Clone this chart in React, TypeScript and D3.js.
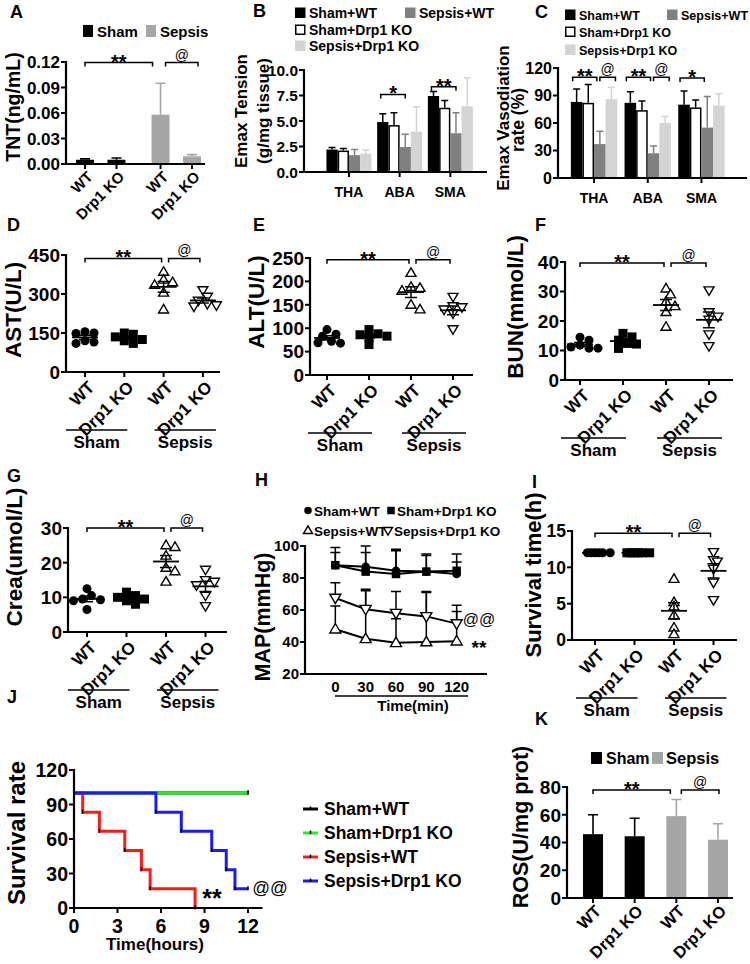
import React from 'react';
import * as d3 from 'd3';

const FONT = "'Liberation Sans', Arial, Helvetica, sans-serif";

// ---------- shared labels ----------
const groupLabels = ['WT', 'Drp1 KO', 'WT', 'Drp1 KO'];
const conditionNames = ['Sham', 'Sepsis'];
const seriesNames = ['Sham+WT', 'Sham+Drp1 KO', 'Sepsis+WT', 'Sepsis+Drp1 KO'];

// ---------- A: TNT ----------
const tntMean = [0.005, 0.005, 0.058, 0.009];
const tntSD = [0.001, 0.002, 0.037, 0.002];
const tntTicks = [0, 0.03, 0.06, 0.09, 0.12];

// ---------- B: Emax tension ----------
const vessels = ['THA', 'ABA', 'SMA'];
const tensionMean = [
  [2.2, 4.9, 7.45],   // Sham+WT
  [2.1, 4.6, 6.3],    // Sham+Drp1 KO
  [1.65, 2.45, 3.8],  // Sepsis+WT
  [1.8, 3.95, 6.45],  // Sepsis+Drp1 KO
];
const tensionSD = [
  [0.2, 0.8, 0.45],
  [0.2, 1.2, 0.7],
  [0.55, 1.25, 2.0],
  [0.35, 2.45, 2.8],
];
const tensionTicks = [0, 2.5, 5, 7.5, 10];

// ---------- C: Emax vasodilation ----------
const vasoMean = [
  [83, 82, 80],
  [82, 74, 77],
  [37, 27, 55],
  [86, 60, 79],
];
const vasoSD = [
  [14, 12, 15],
  [20, 10, 8],
  [14, 8, 34],
  [13, 7, 13],
];
const vasoTicks = [0, 30, 60, 90, 120];

// ---------- D: AST ----------
const astShamWT = [155, 150, 148, 120, 115, 110];
const astShamKO = [150, 145, 135, 125, 120, 110];
const astSepsisWT = [385, 355, 345, 335, 305, 240];
const astSepsisKO = [315, 290, 275, 262, 257, 252];
const astTicks = [0, 150, 300, 450];

// ---------- E: ALT ----------
const altShamWT = [97, 87, 83, 72, 69, 68];
const altShamKO = [97, 88, 86, 83, 80, 65];
const altSepsisWT = [218, 188, 186, 180, 150, 140];
const altSepsisKO = [167, 147, 145, 140, 132, 98];
const altTicks = [0, 50, 100, 150, 200, 250];

// ---------- F: BUN ----------
const bunShamWT = [14.5, 13.5, 11.8, 11.2, 10.8, 10.8];
const bunShamKO = [15.8, 14.6, 13.5, 12.4, 12.2, 10.7];
const bunSepsisWT = [31, 29, 26.5, 25, 23, 18];
const bunSepsisKO = [30.4, 23, 21.5, 20.5, 15.5, 11.5];
const bunTicks = [0, 10, 20, 30, 40];

// ---------- G: Crea ----------
const creaShamWT = [12.5, 10.5, 9.5, 9.3, 9.0, 6.5];
const creaShamKO = [11.5, 10.5, 10, 9.5, 9, 8];
const creaSepsisWT = [25, 24.5, 22, 18.5, 17.5, 14.5];
const creaSepsisKO = [18, 15, 14.5, 13.5, 10.5, 7.5];
const creaTicks = [0, 10, 20, 30];

// ---------- H: MAP ----------
const mapTimes = [0, 30, 60, 90, 120];
const mapShamWT = [88, 87, 84.5, 84, 82.5];
const mapShamWTSD = [11, 13, 13.5, 11, 7.5];
const mapShamKO = [88, 84, 82.5, 84, 84.5];
const mapShamKOSD = [8, 12, 14.5, 10, 10.5];
const mapSepsisWT = [48, 42, 39.5, 40, 40.5];
const mapSepsisWTSD = [14.5, 30, 15, 31, 18.5];
const mapSepsisKO = [67.5, 60.5, 58, 56, 51.5];
const mapSepsisKOSD = [9.5, 12.5, 13.5, 15.5, 11.5];
const mapTicks = [20, 40, 60, 80, 100];

// ---------- I: survival time ----------
const stShamWT = [12, 12, 12, 12, 12, 12];
const stShamKO = [12, 12, 12, 12, 12, 12];
const stSepsisWT = [8.4, 5.2, 4.6, 3.4, 1.7, 0.8];
const stSepsisKO = [12.1, 11.0, 10.8, 9.8, 7.9, 5.5];
const stTicks = [0, 5, 10, 15];

// ---------- J: Kaplan-Meier ----------
const kmShamWTTimes = [0, 12];
const kmShamWTSurv = [100, 100];
const kmShamKOTimes = [0, 12];
const kmShamKOSurv = [100, 100];
const kmSepsisWTTimes = [0, 0.6, 1.75, 3.5, 4.65, 5.25, 8.35];
const kmSepsisWTSurv = [100, 83.3, 66.7, 50, 33.3, 16.7, 0];
const kmSepsisKOTimes = [0, 5.65, 7.4, 9.5, 10.5, 11.1, 12];
const kmSepsisKOSurv = [100, 83.3, 66.7, 50, 33.3, 16.7, 16.7];
const kmColors = ['#000000', '#22ee22', '#ff1a1a', '#1a1aff'];
const kmYTicks = [0, 30, 60, 90, 120];
const kmXTicks = [0, 3, 6, 9, 12];

// ---------- K: ROS ----------
const rosMean = [46, 44.5, 59, 42];
const rosSD = [14, 13, 12, 11.5];
const rosTicks = [0, 20, 40, 60, 80];

// ================= helpers =================
function YAxis({ scale, x, ticks, fmt, fs }: any) {
  const [d0, d1] = scale.domain();
  return (
    <g>
      <line x1={x} x2={x} y1={scale(d0) + 1} y2={scale(d1) - 1} stroke="#000" strokeWidth={2.2} />
      {ticks.map((t: number) => (
        <g key={t}>
          <line x1={x - 5} x2={x} y1={scale(t)} y2={scale(t)} stroke="#000" strokeWidth={2} />
          <text x={x - 6} y={scale(t)} dy="0.36em" textAnchor="end" fontSize={fs} fontWeight="bold">
            {fmt ? fmt(t) : t}
          </text>
        </g>
      ))}
    </g>
  );
}

function XAxisLine({ x0, x1, y, ticks }: any) {
  return (
    <g>
      <line x1={x0 - 1} x2={x1} y1={y} y2={y} stroke="#000" strokeWidth={2.2} />
      {(ticks || []).map((t: number, i: number) => (
        <line key={i} x1={t} x2={t} y1={y} y2={y + 5} stroke="#000" strokeWidth={2} />
      ))}
    </g>
  );
}

function YLabel({ x, y, text, fs }: any) {
  return (
    <text transform={`translate(${x},${y}) rotate(-90)`} textAnchor="middle" dy="0.36em" fontSize={fs} fontWeight="bold">
      {text}
    </text>
  );
}

function RotLabel({ x, y, text, fs }: any) {
  return (
    <text transform={`translate(${x},${y}) rotate(-45)`} textAnchor="end" dy="0.36em" fontSize={fs} fontWeight="bold">
      {text}
    </text>
  );
}

function Letter({ x, y, t }: any) {
  return (
    <text x={x} y={y} fontSize={18} fontWeight="bold">
      {t}
    </text>
  );
}

function Bracket({ xa, xb, y, label, fs }: any) {
  const isAt = label.startsWith('@');
  return (
    <g>
      <path d={`M${xa},${y + 4}V${y}H${xb}V${y + 4}`} fill="none" stroke="#000" strokeWidth={1.5} />
      <text
        x={(xa + xb) / 2}
        y={isAt ? y - 3 : y + 6}
        textAnchor="middle"
        fontSize={isAt ? fs * 0.7 : fs}
        fontWeight={isAt ? 'normal' : 'bold'}
      >
        {label}
      </text>
    </g>
  );
}

function Marker({ type, x, y, s }: any) {
  if (type === 'circle') return <circle cx={x} cy={y} r={s / 2} fill="#000" />;
  if (type === 'square') return <rect x={x - s / 2} y={y - s / 2} width={s} height={s} fill="#000" />;
  const h = s * 0.95;
  if (type === 'up')
    return (
      <path
        d={`M${x},${y - h * 0.6}L${x + s / 2 + 0.5},${y + h * 0.4}L${x - s / 2 - 0.5},${y + h * 0.4}Z`}
        fill="#fff"
        stroke="#000"
        strokeWidth={1.4}
      />
    );
  return (
    <path
      d={`M${x},${y + h * 0.6}L${x + s / 2 + 0.5},${y - h * 0.4}L${x - s / 2 - 0.5},${y - h * 0.4}Z`}
      fill="#fff"
      stroke="#000"
      strokeWidth={1.4}
    />
  );
}

function swarm(vals: number[], y: any, minD: number, step: number) {
  const order = vals.map((_, i) => i).sort((a, b) => vals[b] - vals[a]);
  const placed: { x: number; y: number }[] = [];
  const offs = vals.map(() => 0);
  for (const i of order) {
    const py = y(vals[i]);
    for (let k = 0; k < 60; k++) {
      const n = Math.ceil(k / 2);
      const cand = k === 0 ? 0 : k % 2 === 1 ? n * step : -n * step;
      if (placed.every((p) => Math.hypot(p.x - cand, p.y - py) >= minD)) {
        offs[i] = cand;
        placed.push({ x: cand, y: py });
        break;
      }
    }
  }
  return offs;
}

const scatterMarkers = ['circle', 'square', 'up', 'down'];

// ================= panels =================
function SimpleBars({ y, xs, means, sds, colors, barW, cap }: any) {
  return (
    <g>
      {xs.map((cx: number, i: number) => (
        <g key={i}>
          <path
            d={`M${cx},${y(means[i])}V${y(means[i] + sds[i])}M${cx - cap},${y(means[i] + sds[i])}H${cx + cap}`}
            stroke={colors[i]}
            strokeWidth={1.6}
            fill="none"
          />
          <rect x={cx - barW / 2} y={y(means[i])} width={barW} height={y(0) - y(means[i])} fill={colors[i]} />
        </g>
      ))}
    </g>
  );
}

function PanelA() {
  const y = d3.scaleLinear().domain([0, 0.12]).range([164, 62]);
  const x = d3.scaleLinear().domain([0, 3.4]).range([85, 192]);
  const slots = [0, 1, 2.4, 3.4];
  const xs = slots.map((s) => x(s));
  const colors = ['#000', '#000', '#a6a6a6', '#a6a6a6'];
  return (
    <g>
      <Letter x={10} y={18} t="A" />
      <rect x={83} y={25} width={10} height={12} fill="#000" />
      <text x={97} y={37} fontSize={15} fontWeight="bold">{conditionNames[0]}</text>
      <rect x={146} y={25} width={10} height={12} fill="#a6a6a6" />
      <text x={160} y={37} fontSize={15} fontWeight="bold">{conditionNames[1]}</text>
      <SimpleBars y={y} xs={xs} means={tntMean} sds={tntSD} colors={colors} barW={18} cap={5} />
      <YAxis scale={y} x={66} ticks={tntTicks} fmt={d3.format('.2f')} fs={17} />
      <XAxisLine x0={66} x1={205} y={164} ticks={xs} />
      {xs.map((cx, i) => (
        <RotLabel key={i} x={cx + 5} y={174} text={groupLabels[i]} fs={15} />
      ))}
      <Bracket xa={xs[0]} xb={xs[2] - 8} y={62.5} label="**" fs={20} />
      <Bracket xa={xs[2] + 5} xb={xs[3] + 6} y={62.5} label="@" fs={20} />
      <YLabel x={13} y={107} text="TNT(ng/mL)" fs={19.5} />
    </g>
  );
}

function GroupedPanel({ means, sds, y, groupX, barW, ticks, fmt, axX, axEnd, tickFs, labFs, sigs }: any) {
  const fills = ['#000', '#fff', '#808080', '#d4d4d4'];
  const errCol = ['#000', '#000', '#808080', '#d4d4d4'];
  const inner = d3.scaleBand().domain(d3.range(4).map(String)).range([-barW * 2, barW * 2]);
  const y0 = y(0);
  return (
    <g>
      {vessels.map((v, gi) => (
        <g key={v}>
          {means.map((ser: number[], si: number) => {
            const cx = groupX(v) + inner(String(si))! + barW / 2;
            const m = ser[gi];
            const t = m + sds[si][gi];
            return (
              <g key={si}>
                <path d={`M${cx},${y(m)}V${y(t)}M${cx - 3.5},${y(t)}H${cx + 3.5}`} stroke={errCol[si]} strokeWidth={1.5} fill="none" />
                <rect
                  x={cx - barW / 2 + (si === 1 ? 0.75 : 0)}
                  y={y(m) + (si === 1 ? 0.75 : 0)}
                  width={barW - (si === 1 ? 1.5 : 0)}
                  height={y0 - y(m) - (si === 1 ? 0.75 : 0)}
                  fill={fills[si]}
                  stroke={si === 1 ? '#000' : 'none'}
                  strokeWidth={1.5}
                />
              </g>
            );
          })}
          <text x={groupX(v)} y={y0 + 25} textAnchor="middle" fontSize={labFs} fontWeight="bold">{v}</text>
        </g>
      ))}
      {sigs.map((s: any, i: number) => {
        const cxA = groupX(vessels[s.g]) + inner(String(s.a))! + barW / 2;
        const cxB = groupX(vessels[s.g]) + inner(String(s.b))! + barW / 2;
        return <Bracket key={i} xa={cxA + s.da} xb={cxB + s.db} y={y(s.v)} label={s.label} fs={20} />;
      })}
      <YAxis scale={y} x={axX} ticks={ticks} fmt={fmt} fs={tickFs} />
      <XAxisLine x0={axX} x1={axEnd} y={y0} ticks={vessels.map((v) => groupX(v))} />
    </g>
  );
}

function Legend4({ x1, x2, ys, fs }: any) {
  // layout: row0: Sham+WT | Sepsis+WT ; row1: Sham+Drp1 KO ; row2: Sepsis+Drp1 KO
  const fills = ['#000', '#fff', '#808080', '#d4d4d4'];
  const pos = [
    [x1, ys[0]],
    [x1, ys[1]],
    [x2, ys[0]],
    [x1, ys[2]],
  ];
  return (
    <g>
      {seriesNames.map((n, i) => (
        <g key={n}>
          <rect
            x={pos[i][0] + (i === 1 ? 0.75 : 0)}
            y={pos[i][1] - 10.5 + (i === 1 ? 0.75 : 0)}
            width={i === 1 ? 9 : 10.5}
            height={i === 1 ? 9 : 10.5}
            fill={fills[i]}
            stroke={i === 1 ? '#000' : 'none'}
            strokeWidth={1.5}
          />
          <text x={pos[i][0] + 14} y={pos[i][1]} fontSize={fs} fontWeight="bold">{n}</text>
        </g>
      ))}
    </g>
  );
}

function PanelB() {
  const y = d3.scaleLinear().domain([0, 10]).range([172, 70]);
  const groupX = (v: string) => {
    const b = d3.scaleBand().domain(vessels).range([323.6, 475.7]);
    return b(v)! + b.bandwidth() / 2;
  };
  const sigs = [
    { g: 1, a: 0, b: 2, v: 7.6, label: '*', da: -2, db: 0 },
    { g: 2, a: 0, b: 2, v: 8.35, label: '**', da: -2, db: 0 },
  ];
  return (
    <g>
      <Letter x={253} y={17} t="B" />
      <Legend4 x1={295} x2={405} ys={[18, 35, 51]} fs={14} />
      <GroupedPanel
        means={tensionMean}
        sds={tensionSD}
        y={y}
        groupX={groupX}
        barW={11.25}
        ticks={tensionTicks}
        fmt={d3.format('.1f')}
        axX={304}
        axEnd={487}
        tickFs={15.5}
        labFs={14}
        sigs={sigs}
      />
      <YLabel x={241} y={111} text="Emax Tension" fs={17} />
      <YLabel x={263} y={111} text="(g/mg tissue)" fs={17} />
    </g>
  );
}

function PanelC() {
  const y = d3.scaleLinear().domain([0, 120]).range([178, 68]);
  const groupX = (v: string) => {
    const b = d3.scaleBand().domain(vessels).range([567.2, 728.3]);
    return b(v)! + b.bandwidth() / 2;
  };
  const sigs = [
    { g: 0, a: 0, b: 2, v: 110, label: '**', da: -4, db: -3 },
    { g: 0, a: 2, b: 3, v: 110, label: '@', da: 0, db: 4 },
    { g: 1, a: 0, b: 2, v: 110, label: '**', da: -4, db: -3 },
    { g: 1, a: 2, b: 3, v: 110, label: '@', da: 0, db: 4 },
    { g: 2, a: 0, b: 2, v: 109, label: '*', da: -4, db: -3 },
  ];
  return (
    <g>
      <Letter x={535} y={18} t="C" />
      <Legend4 x1={565} x2={667} ys={[20, 37, 55]} fs={12.5} />
      <GroupedPanel
        means={vasoMean}
        sds={vasoSD}
        y={y}
        groupX={groupX}
        barW={11.6}
        ticks={vasoTicks}
        fmt={null}
        axX={558}
        axEnd={747}
        tickFs={16}
        labFs={14}
        sigs={sigs}
      />
      <YLabel x={503} y={118} text="Emax Vasodiation" fs={17} />
      <YLabel x={518} y={120} text="rate (%)" fs={17.5} />
    </g>
  );
}

function ScatterPanel({ ax, axEnd, yRange, domain, ticks, c0, step, groups, sigVal, letter, letterPos, yLabel, yLabelPos, ylFs, swarmStep, tickFs }: any) {
  const y = d3.scaleLinear().domain(domain).range(yRange);
  const xs = groups.map((_: any, i: number) => c0 + step * i);
  const y0 = yRange[0];
  const sy = y(sigVal);
  const ul = y0 + 58;
  const ss = swarmStep || 4.5;
  return (
    <g>
      <Letter x={letterPos[0]} y={letterPos[1]} t={letter} />
      {groups.map((vals: number[], gi: number) => {
        const offs = swarm(vals, y, ss < 4.5 ? ss : 7, ss);
        const m = d3.mean(vals)!;
        const sem = (d3.deviation(vals) || 0) / Math.sqrt(vals.length);
        const cx = xs[gi];
        return (
          <g key={gi}>
            {vals.map((v, i) => (
              <Marker key={i} type={scatterMarkers[gi]} x={cx + offs[i]} y={y(v)} s={9} />
            ))}
            <line x1={cx - 13} x2={cx + 13} y1={y(m)} y2={y(m)} stroke="#000" strokeWidth={1.8} />
            {sem > 0 && (
              <path
                d={`M${cx - 6},${y(m + sem)}H${cx + 6}M${cx},${y(m + sem)}V${y(m - sem)}M${cx - 6},${y(m - sem)}H${cx + 6}`}
                stroke="#000"
                strokeWidth={1.5}
                fill="none"
              />
            )}
          </g>
        );
      })}
      <YAxis scale={y} x={ax} ticks={ticks} fmt={null} fs={tickFs || 19} />
      <XAxisLine x0={ax} x1={axEnd} y={y0} ticks={xs} />
      {xs.map((cx: number, i: number) => (
        <RotLabel key={i} x={cx + 6} y={y0 + 12} text={groupLabels[i]} fs={17} />
      ))}
      <Bracket xa={xs[0]} xb={xs[2] - 2} y={sy} label="**" fs={20} />
      <Bracket xa={xs[2] + 5} xb={xs[3] - 3} y={sy} label="@" fs={20} />
      <line x1={xs[0] - 19} x2={xs[1] + 3} y1={ul} y2={ul} stroke="#000" strokeWidth={1.5} />
      <text x={(xs[0] - 19 + xs[1] + 3) / 2} y={ul + 18} textAnchor="middle" fontSize={17} fontWeight="bold">{conditionNames[0]}</text>
      <line x1={xs[2] - 9} x2={xs[3] + 13} y1={ul} y2={ul} stroke="#000" strokeWidth={1.5} />
      <text x={(xs[2] - 9 + xs[3] + 13) / 2} y={ul + 18} textAnchor="middle" fontSize={17} fontWeight="bold">{conditionNames[1]}</text>
      <YLabel x={yLabelPos[0]} y={yLabelPos[1]} text={yLabel} fs={ylFs} />
    </g>
  );
}

function PanelH() {
  const y = d3.scaleLinear().domain([20, 100]).range([674, 546]);
  const x = d3.scaleLinear().domain([-30, 150]).range([305, 487]);
  const series = [
    { m: mapShamWT, sd: mapShamWTSD, mk: 'circle' },
    { m: mapShamKO, sd: mapShamKOSD, mk: 'square' },
    { m: mapSepsisWT, sd: mapSepsisWTSD, mk: 'up' },
    { m: mapSepsisKO, sd: mapSepsisKOSD, mk: 'down' },
  ];
  const line = d3.line<number>().x((_, i) => x(mapTimes[i])).y((d) => y(d));
  const legendPos = [
    [308, 511],
    [391, 511],
    [308, 531],
    [388, 531],
  ];
  return (
    <g>
      <Letter x={255} y={486} t="H" />
      {series.map((s, si) => (
        <g key={si}>
          {s.m.map((v, i) => (
            <path
              key={i}
              d={`M${x(mapTimes[i])},${y(v)}V${y(v + s.sd[i])}M${x(mapTimes[i]) - 5},${y(v + s.sd[i])}H${x(mapTimes[i]) + 5}`}
              stroke="#000"
              strokeWidth={1.5}
              fill="none"
            />
          ))}
        </g>
      ))}
      {series.map((s, si) => (
        <g key={si}>
          <path d={line(s.m)!} fill="none" stroke="#000" strokeWidth={2} />
          {s.m.map((v, i) => (
            <Marker key={i} type={s.mk} x={x(mapTimes[i])} y={y(v)} s={si < 2 ? 8.5 : 10} />
          ))}
        </g>
      ))}
      <YAxis scale={y} x={305} ticks={mapTicks} fmt={null} fs={15} />
      <XAxisLine x0={305} x1={487} y={674} ticks={[]} />
      {mapTimes.map((t) => (
        <text key={t} x={x(t)} y={692} textAnchor="middle" fontSize={15} fontWeight="bold">{t}</text>
      ))}
      <line x1={335} x2={468} y1={696} y2={696} stroke="#000" strokeWidth={1.5} />
      <text x={413} y={711} textAnchor="middle" fontSize={15} fontWeight="bold">Time(min)</text>
      <text x={479} y={625} textAnchor="middle" fontSize={16}>@@</text>
      <text x={479} y={654} textAnchor="middle" fontSize={19} fontWeight="bold">**</text>
      {series.map((s, si) => (
        <g key={si}>
          <Marker type={s.mk} x={legendPos[si][0]} y={legendPos[si][1] - 0.5} s={si < 2 ? 7.5 : 8} />
          <text x={legendPos[si][0] + 6} y={legendPos[si][1] + 5} fontSize={13.5} fontWeight="bold">{seriesNames[si]}</text>
        </g>
      ))}
      <YLabel x={262} y={617} text="MAP(mmHg)" fs={21.5} />
    </g>
  );
}

function PanelJ() {
  const x = d3.scaleLinear().domain([0, 13]).range([74, 262.5]);
  const y = d3.scaleLinear().domain([0, 120]).range([908, 770]);
  const step = d3
    .line<[number, number]>()
    .x((d) => x(d[0]))
    .y((d) => y(d[1]))
    .curve(d3.curveStepAfter);
  const curves = [
    [kmShamWTTimes, kmShamWTSurv],
    [kmShamKOTimes, kmShamKOSurv],
    [kmSepsisWTTimes, kmSepsisWTSurv],
    [kmSepsisKOTimes, kmSepsisKOSurv],
  ];
  const legY = [809, 833, 857, 881];
  return (
    <g>
      <Letter x={7} y={703} t="J" />
      {curves.map(([ts, ss], ci) => {
        const pts = ts.map((t, i) => [t, ss[i]] as [number, number]);
        return (
          <g key={ci}>
            <path d={step(pts)!} fill="none" stroke={kmColors[ci]} strokeWidth={3} />
            {pts.slice(1).map((p, i) => (
              <line key={i} x1={x(p[0])} x2={x(p[0])} y1={y(p[1]) - 2.5} y2={y(p[1]) + 1.5} stroke="#000" strokeWidth={1.5} />
            ))}
          </g>
        );
      })}
      <YAxis scale={y} x={74} ticks={kmYTicks} fmt={null} fs={19.5} />
      <XAxisLine x0={74} x1={262.5} y={908} ticks={kmXTicks.map((t) => x(t))} />
      {kmXTicks.map((t) => (
        <text key={t} x={x(t)} y={933} textAnchor="middle" fontSize={19.5} fontWeight="bold">{t}</text>
      ))}
      <text x={155} y={950} textAnchor="middle" fontSize={17} fontWeight="bold">Time(hours)</text>
      <text x={212} y={907} textAnchor="middle" fontSize={25} fontWeight="bold">**</text>
      <text x={270} y={894} textAnchor="middle" fontSize={17.5}>@@</text>
      {seriesNames.map((n, i) => (
        <g key={n}>
          <line x1={303} x2={318} y1={legY[i]} y2={legY[i]} stroke={kmColors[i]} strokeWidth={3} />
          <line x1={310.5} x2={310.5} y1={legY[i] - 2.5} y2={legY[i] + 1} stroke="#000" strokeWidth={1.5} />
          <text x={324} y={legY[i] + 6} fontSize={17.5} fontWeight="bold">{n}</text>
        </g>
      ))}
      <YLabel x={16} y={833} text="Survival rate" fs={24} />
    </g>
  );
}

function PanelK() {
  const y = d3.scaleLinear().domain([0, 80]).range([898, 787]);
  const x = d3.scalePoint().domain(['0', '1', '2', '3']).range([593, 718]);
  const xs = groupLabels.map((_, i) => x(String(i))!);
  const colors = ['#000', '#000', '#a6a6a6', '#a6a6a6'];
  return (
    <g>
      <Letter x={535} y={725} t="K" />
      <rect x={591} y={752} width={11} height={12} fill="#000" />
      <text x={606} y={764} fontSize={16} fontWeight="bold">{conditionNames[0]}</text>
      <rect x={652} y={752} width={11} height={12} fill="#a6a6a6" />
      <text x={666} y={764} fontSize={16.5} fontWeight="bold">{conditionNames[1]}</text>
      <SimpleBars y={y} xs={xs} means={rosMean} sds={rosSD} colors={colors} barW={20} cap={5} />
      <YAxis scale={y} x={567} ticks={rosTicks} fmt={null} fs={19} />
      <XAxisLine x0={567} x1={733} y={898} ticks={xs} />
      {xs.map((cx, i) => (
        <RotLabel key={i} x={cx + 5} y={908} text={groupLabels[i]} fs={16.5} />
      ))}
      <Bracket xa={xs[0]} xb={xs[2] - 6} y={790} label="**" fs={20} />
      <Bracket xa={xs[2] + 5} xb={xs[3] + 1} y={790} label="@" fs={20} />
      <YLabel x={520} y={827} text="ROS(U/mg prot)" fs={21.5} />
    </g>
  );
}

export default function App() {
  return (
    <svg
      width={750}
      height={964}
      viewBox="0 0 750 964"
      style={{ position: 'absolute', left: 0, top: 0, display: 'block' }}
      fontFamily={FONT}
    >
      <rect width={750} height={964} fill="#fff" />
      <PanelA />
      <PanelB />
      <PanelC />
      <ScatterPanel
        ax={66} axEnd={220} yRange={[372, 255]} domain={[0, 450]} ticks={astTicks}
        c0={85} step={39.3} groups={[astShamWT, astShamKO, astSepsisWT, astSepsisKO]}
        sigVal={437} letter="D" letterPos={[7, 231]} yLabel="AST(U/L)" yLabelPos={[13, 310]} ylFs={22.5}
      />
      <ScatterPanel
        ax={310} axEnd={473} yRange={[375, 258]} domain={[0, 250]} ticks={altTicks}
        c0={327} step={42} groups={[altShamWT, altShamKO, altSepsisWT, altSepsisKO]}
        sigVal={246} letter="E" letterPos={[253, 231]} yLabel="ALT(U/L)" yLabelPos={[256, 302]} ylFs={22.5}
      />
      <ScatterPanel
        ax={565} axEnd={733} yRange={[380, 262]} domain={[0, 40]} ticks={bunTicks}
        c0={580} step={43} groups={[bunShamWT, bunShamKO, bunSepsisWT, bunSepsisKO]}
        sigVal={39.7} letter="F" letterPos={[535, 231]} yLabel="BUN(mmol/L)" yLabelPos={[515, 307]} ylFs={22.5}
      />
      <ScatterPanel
        ax={68} axEnd={227} yRange={[632, 528]} domain={[0, 30]} ticks={creaTicks}
        c0={87} step={39.5} groups={[creaShamWT, creaShamKO, creaSepsisWT, creaSepsisKO]}
        sigVal={30} letter="G" letterPos={[7, 482]} yLabel="Crea(umol/L)" yLabelPos={[14, 557]} ylFs={22.5}
      />
      <PanelH />
      <ScatterPanel
        ax={572} axEnd={737} yRange={[640, 531]} domain={[0, 15]} ticks={stTicks}
        c0={595} step={39.5} groups={[stShamWT, stShamKO, stSepsisWT, stSepsisKO]}
        sigVal={14.7} letter="I" letterPos={[532, 488]} yLabel="Survival time(h)" yLabelPos={[533, 575]} ylFs={22}
        swarmStep={3.8} tickFs={17.5}
      />
      <PanelJ />
      <PanelK />
    </svg>
  );
}
